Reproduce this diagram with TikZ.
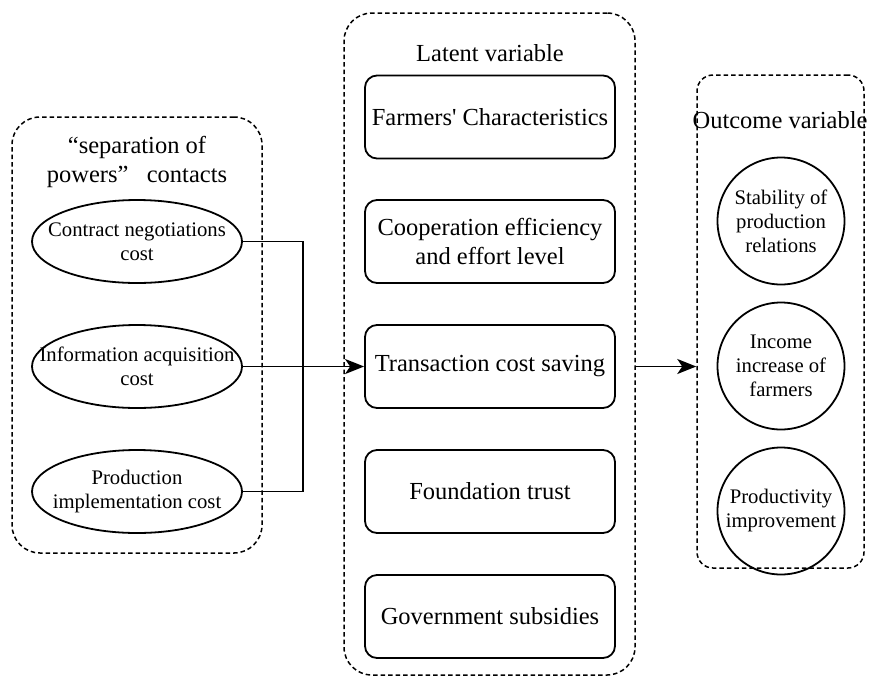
\documentclass[tikz,border=0pt]{standalone}
\usepackage{fontspec}
\setmainfont{Liberation Serif}
\usetikzlibrary{shapes.geometric,arrows.meta}
\begin{document}
\begin{tikzpicture}[x=1pt,y=-1pt,
  container/.style={draw, line width=1.5pt, dash pattern=on 4.5pt off 3pt, rounded corners=#1, inner sep=0pt},
  container/.default=28pt,
  bigtext/.style={font=\fontsize{24.5}{28.5}\selectfont, align=center},
  smalltext/.style={font=\fontsize{20.7}{24}\selectfont, align=center, inner sep=0pt},
  latbox/.style={draw, line width=1.8pt, rounded corners=12pt, minimum width=250pt, minimum height=83pt, inner sep=0pt, bigtext},
  costell/.style={draw, line width=1.8pt, ellipse, minimum width=210pt, minimum height=83pt, inner sep=0pt},
  outcirc/.style={draw, line width=1.8pt, circle, minimum size=127pt, inner sep=0pt, smalltext},
  conn/.style={draw, line width=1.8pt},
  arr/.style={conn, -{Stealth[length=19pt,width=15pt,inset=5pt]}}
]
\useasboundingbox (0,0) rectangle (872,678);
% containers
\node[container, minimum width=250pt, minimum height=436pt] (L) at (137,335) {};
\node[container, minimum width=291pt, minimum height=662pt] (M) at (489.5,344) {};
\node[container=16pt, minimum width=167pt, minimum height=493pt] (R) at (780.5,321.5) {};
% titles
\node[bigtext] (Lt) at (137,162) {“separation of\\powers”\hspace{0.5em} contacts};
\node[bigtext] (Mt) at (490,53) {Latent variable};
\node[bigtext] (Rt) at (780,120) {Outcome variable};
% left ellipses
\node[costell] (e1) at (137,241.5) {};
\node[smalltext] (e1t) at (e1.center) {Contract negotiations\\cost};
\node[costell] (e2) at (137,366.5) {};
\node[smalltext] (e2t) at (e2.center) {Information acquisition\\cost};
\node[costell] (e3) at (137,491.5) {};
\node[smalltext] (e3t) at (e3.center) {Production\\implementation cost};
% latent boxes
\node[latbox] (b1) at (490,117) {Farmers\textquotesingle\ Characteristics};
\node[latbox] (b2) at (490,241.5) {Cooperation efficiency\\and effort level};
\node[latbox] (b3) at (490,366.5) {Transaction cost saving};
\node[latbox] (b4) at (490,491.5) {Foundation trust};
\node[latbox] (b5) at (490,616.5) {Government subsidies};
% outcome circles
\node[outcirc] (c1) at (781,221) {Stability of\\production\\relations};
\node[outcirc] (c2) at (781,366) {Income\\increase of\\farmers};
\node[outcirc] (c3) at (781,511) {Productivity\\improvement};
% connectors
\coordinate (j) at (303,366.5);
\draw[conn] (e1.east) -| (j) |- (e3.east);
\draw[arr] (e2.east) -- (b3.west);
\draw[arr] (M.east |- b3.east) -- (R.west |- b3.east);
\end{tikzpicture}
\end{document}
